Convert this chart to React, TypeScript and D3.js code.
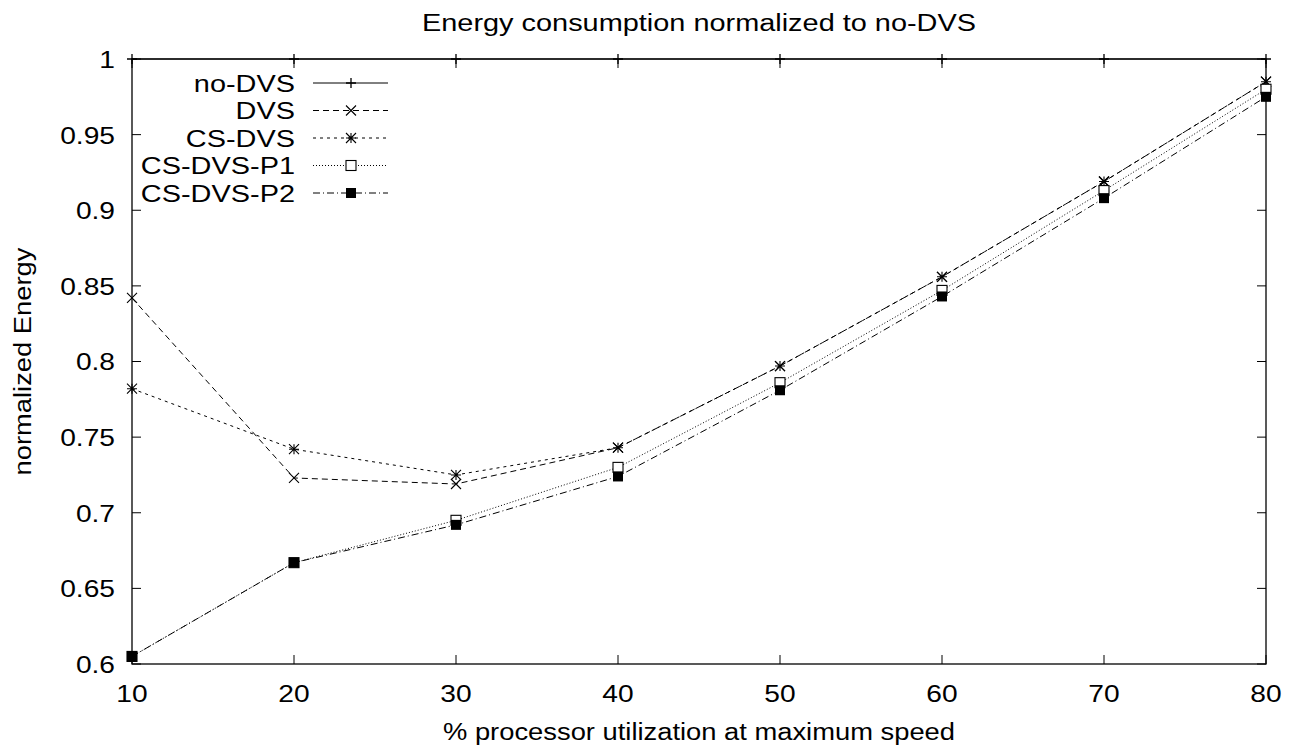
import React from "react";
import * as d3 from "d3";

// x categories (% utilization)
const utilization = [10, 20, 30, 40, 50, 60, 70, 80];

// series values
const noDvs = [1, 1, 1, 1, 1, 1, 1, 1];
const dvs = [0.842, 0.723, 0.719, 0.743, 0.797, 0.856, 0.919, 0.985];
const csDvs = [0.782, 0.742, 0.725, 0.743, 0.797, 0.856, 0.919, 0.985];
const csDvsP1 = [0.605, 0.667, 0.695, 0.73, 0.786, 0.847, 0.913, 0.98];
const csDvsP2 = [0.605, 0.667, 0.692, 0.724, 0.781, 0.843, 0.908, 0.975];

const yTicks = [0.6, 0.65, 0.7, 0.75, 0.8, 0.85, 0.9, 0.95, 1];
const xTicks = [10, 20, 30, 40, 50, 60, 70, 80];

const seriesNames = ["no-DVS", "DVS", "CS-DVS", "CS-DVS-P1", "CS-DVS-P2"];
const seriesValues = [noDvs, dvs, csDvs, csDvsP1, csDvsP2];
const dashes = ["none", "6,4", "3,4", "1,2", "7,3,1,3"];
const markerKinds = ["plus", "cross", "star", "box", "fbox"];

const W = 1291;
const H = 748;
const margin = { left: 132, right: 25, top: 59, bottom: 84 };
const FONT = "'Liberation Sans', Arial, Helvetica, sans-serif";
const FS = 24.7;

// text that is a bit wider than Liberation Sans, like the original
const Label = ({
  x,
  y,
  anchor,
  sx,
  rotate = 0,
  children,
}: {
  x: number;
  y: number;
  anchor: "start" | "middle" | "end";
  sx: number;
  rotate?: number;
  children: React.ReactNode;
}) => (
  <text
    transform={`translate(${x},${y}) rotate(${rotate}) scale(${sx},1)`}
    dy="0.36em"
    textAnchor={anchor}
    fontSize={FS}
  >
    {children}
  </text>
);

const Marker = ({ kind, x, y }: { kind: string; x: number; y: number }) => {
  const s = 5;
  if (kind === "plus") {
    return (
      <path d={`M${x - s},${y}H${x + s}M${x},${y - s}V${y + s}`} stroke="#000" strokeWidth={1.3} />
    );
  }
  if (kind === "cross") {
    return (
      <path
        d={`M${x - s},${y - s}L${x + s},${y + s}M${x - s},${y + s}L${x + s},${y - s}`}
        stroke="#000"
        strokeWidth={1.1}
      />
    );
  }
  if (kind === "star") {
    return (
      <path
        d={`M${x - s},${y - s}L${x + s},${y + s}M${x - s},${y + s}L${x + s},${y - s}M${x - s},${y}H${x + s}M${x},${y - s}V${y + s}`}
        stroke="#000"
        strokeWidth={1.1}
      />
    );
  }
  if (kind === "box") {
    return <rect x={x - s} y={y - s} width={2 * s} height={2 * s} fill="#fff" stroke="#000" strokeWidth={1.1} />;
  }
  return <rect x={x - s} y={y - s} width={2 * s} height={2 * s} fill="#000" />;
};

export default function App() {
  const x = d3
    .scaleLinear()
    .domain([10, 80])
    .range([margin.left, W - margin.right]);
  const y = d3
    .scaleLinear()
    .domain([0.6, 1])
    .range([H - margin.bottom, margin.top]);

  const line = d3
    .line<number>()
    .x((_, i) => x(utilization[i]))
    .y((d) => y(d));

  const x0 = x(10);
  const x1 = x(80);
  const y0 = y(0.6);
  const y1 = y(1);
  const tick = 9;

  const legendX = 295;
  const legendY = 83;
  const legendStep = 27.5;

  return (
    <svg
      width={W}
      height={H}
      style={{ position: "absolute", left: 0, top: 0, background: "#fff" }}
      fontFamily={FONT}
    >
      <rect x={0} y={0} width={W} height={H} fill="#fff" />

      {/* ticks, mirrored on all sides */}
      {yTicks.map((t) => (
        <g key={`y${t}`}>
          <line x1={x0} x2={x0 + tick} y1={y(t)} y2={y(t)} stroke="#000" />
          <line x1={x1} x2={x1 - tick} y1={y(t)} y2={y(t)} stroke="#000" />
          <Label x={x0 - 17} y={y(t)} anchor="end" sx={1.14}>
            {String(t)}
          </Label>
        </g>
      ))}
      {xTicks.map((t) => (
        <g key={`x${t}`}>
          <line x1={x(t)} x2={x(t)} y1={y0} y2={y0 - tick} stroke="#000" />
          <line x1={x(t)} x2={x(t)} y1={y1} y2={y1 + tick} stroke="#000" />
          <Label x={x(t)} y={y0 + 29} anchor="middle" sx={1.14}>
            {t}
          </Label>
        </g>
      ))}

      {/* border */}
      <rect x={x0} y={y1} width={x1 - x0} height={y0 - y1} fill="none" stroke="#000" strokeWidth={1.3} />

      {/* series */}
      {seriesValues.map((vals, si) => (
        <g key={seriesNames[si]}>
          <path
            d={line(vals) || ""}
            fill="none"
            stroke="#000"
            strokeWidth={1}
            strokeDasharray={dashes[si]}
          />
          {vals.map((v, i) => (
            <Marker key={i} kind={markerKinds[si]} x={x(utilization[i])} y={y(v)} />
          ))}
        </g>
      ))}

      {/* legend */}
      {seriesNames.map((name, si) => {
        const ly = legendY + si * legendStep;
        return (
          <g key={`leg${name}`}>
            <Label x={legendX} y={ly} anchor="end" sx={1.17}>
              {name}
            </Label>
            <line
              x1={313}
              x2={388}
              y1={ly}
              y2={ly}
              stroke="#000"
              strokeWidth={1}
              strokeDasharray={dashes[si]}
            />
            <Marker kind={markerKinds[si]} x={351} y={ly} />
          </g>
        );
      })}

      {/* titles */}
      <Label x={(x0 + x1) / 2} y={22} anchor="middle" sx={1.17}>
        Energy consumption normalized to no-DVS
      </Label>
      <Label x={(x0 + x1) / 2} y={731} anchor="middle" sx={1.107}>
        % processor utilization at maximum speed
      </Label>
      <Label x={22} y={(y0 + y1) / 2} anchor="middle" sx={1.107} rotate={-90}>
        normalized Energy
      </Label>
    </svg>
  );
}
